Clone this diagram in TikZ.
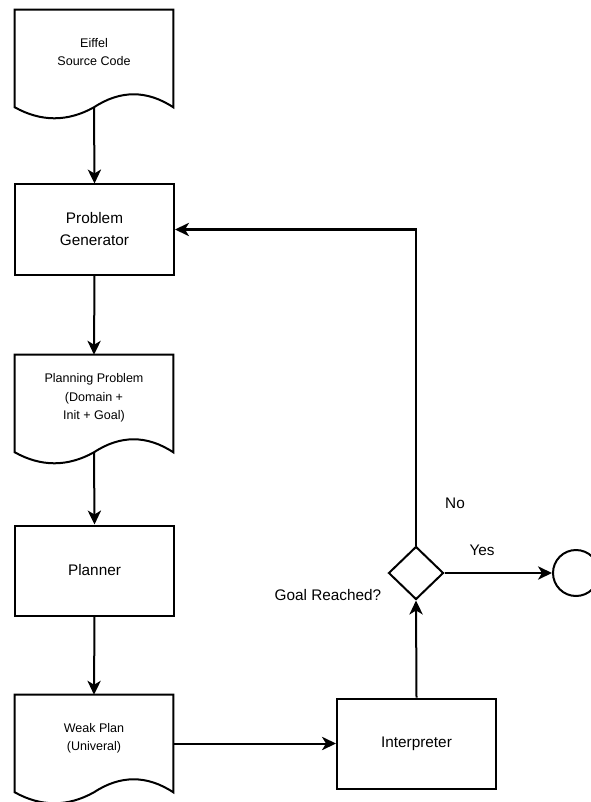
\documentclass[tikz,border=0pt]{standalone}
\usepackage{fontspec}
\setmainfont{Liberation Sans}
\usetikzlibrary{shapes.geometric,arrows.meta}

\tikzset{
  flow/.style={line width=1.5pt, -{Stealth[length=10.5pt,width=10pt,inset=3pt]}},
  box/.style={draw, line width=1.5pt, rectangle, minimum width=119.25pt, minimum height=67.5pt,
    inner sep=0pt, align=center, font=\fontsize{11.5pt}{16.5pt}\selectfont},
  doc/.style={rectangle, minimum width=118.5pt, minimum height=72.75pt, inner sep=0pt,
    align=center, text depth=10pt, font=\fontsize{9.4pt}{13.8pt}\selectfont},
  docline/.style={line width=1.5pt, line join=miter},
  decision/.style={draw, diamond, line width=1.5pt, minimum width=41.25pt, minimum height=39.75pt, inner sep=0pt},
  endpoint/.style={draw, circle, line width=1.5pt, minimum size=34.5pt, inner sep=0pt},
  lbl/.style={font=\fontsize{11.5pt}{14pt}\selectfont}
}

% document outline round a named node
\newcommand{\docpath}[1]{%
  \draw [docline] (#1.south west) -- (#1.north west) -- (#1.north east) -- (#1.south east)
    .. controls +(-26.3,-17.3) and +(26.3,-17.3) .. (#1.south)
    .. controls +(-26.3,14.7) and +(26.3,14.7) .. (#1.south west) -- cycle;}

\begin{document}
\begin{tikzpicture}[x=0.75pt,y=0.75pt,yscale=-1,xscale=1]
\useasboundingbox (0,0) rectangle (591,802);

%Shape: Document
\node [doc] (src) at (94,58.5) {Eiffel\\Source Code};
\docpath{src}
%Shape: Rectangle
\node [box] (gen) at (94.5,229.5) {Problem\\Generator};
%Shape: Document
\node [doc] (prob) at (94,403.5) {Planning Problem\\(Domain +\\Init + Goal)};
\docpath{prob}
%Shape: Rectangle
\node [box] (plan) at (94.5,570.5) {Planner};
%Shape: Document
\node [doc] (weak) at (94,743.5) {Weak Plan\\(Univeral)};
\docpath{weak}
%Shape: Rectangle
\node [box] (interp) at (416.5,743.5) {Interpreter};
%Shape: Diamond
\node [decision] (goal) at (416,573) {};
%Shape: Circle
\node [endpoint] (stop) at (576,573) {};

%Straight Lines
\draw [flow] (src.south) -- (gen.north);
\draw [flow] (gen.south) -- (prob.north);
\draw [flow] (prob.south) -- (plan.north);
\draw [flow] (plan.south) -- (weak.north);
\draw [flow] (weak.east) -- (interp.west);
\draw [flow] (interp.north) -- (goal.south);
\draw [flow] (goal.east) -- (stop.west);
\draw [flow] (goal.north) |- (gen.east);

% Text Node
\node [lbl] (no) at (455,503) {No};
% Text Node
\node [lbl] (yes) at (482,550) {Yes};
% Text Node
\node [lbl] (reached) at (328,595) {Goal Reached?};

\end{tikzpicture}
\end{document}
